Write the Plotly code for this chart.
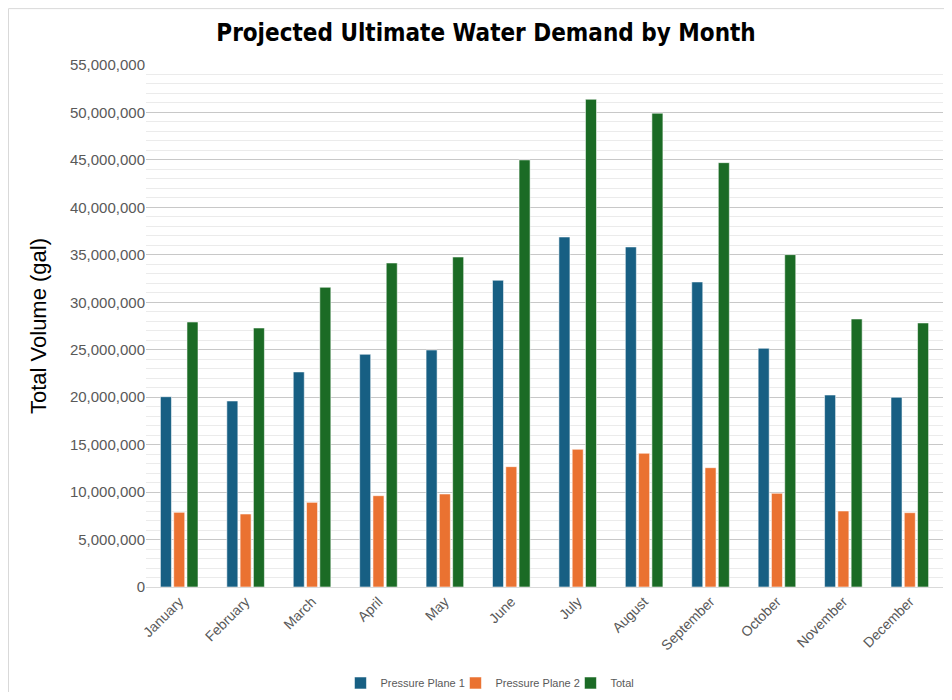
import plotly.graph_objects as go

months = ['January', 'February', 'March', 'April', 'May', 'June', 'July',
          'August', 'September', 'October', 'November', 'December']
plane1 = [20050000, 19600000, 22660000, 24520000, 24970000, 32320000,
          36880000, 35830000, 32140000, 25150000, 20230000, 19990000]
plane2 = [7870000, 7690000, 8920000, 9620000, 9800000, 12680000,
          14510000, 14090000, 12570000, 9870000, 8010000, 7830000]
total = [27920000, 27290000, 31580000, 34140000, 34770000, 45000000,
         51390000, 49920000, 44710000, 35020000, 28240000, 27820000]

# page body has an 8px margin, so the figure is sized to fit inside the window
W, H = 936, 684
edge = dict(color='rgba(255,255,255,0.55)', width=1)
fig = go.Figure()
fig.add_trace(go.Bar(x=months, y=plane1, name='Pressure Plane 1', marker=dict(color='#175f83', line=edge)))
fig.add_trace(go.Bar(x=months, y=plane2, name='Pressure Plane 2', marker=dict(color='#ea7231', line=edge)))
fig.add_trace(go.Bar(x=months, y=total, name='Total', marker=dict(color='#1b6b25', line=edge)))

fig.update_layout(
    width=W, height=H,
    margin=dict(l=138, r=1, t=57, b=105),
    paper_bgcolor='white', plot_bgcolor='white',
    barmode='group', bargap=0.4, bargroupgap=0.17,
    title=dict(text='Projected Ultimate Water Demand by Month', x=0.5107, xanchor='center',
               y=0.9635, yanchor='middle',
               font=dict(family='DejaVu Sans Condensed', size=24, color='black', weight='bold')),
    font=dict(family='Liberation Sans, Arial', color='#595959'),
    legend=dict(orientation='h', xref='container', yref='container',
                x=0.5395, xanchor='center', y=0.0132, yanchor='middle', entrywidth=70,
                font=dict(size=11, color='#595959'), itemwidth=30, traceorder='normal'),
    shapes=[dict(type='rect', xref='paper', yref='paper', x0=-0.1725, x1=1.05, y0=-0.3, y1=1.108,
                 line=dict(color='#d9d9d9', width=1), layer='below')],
)
fig.update_yaxes(range=[0, 55000000], dtick=5000000, tickformat=',d', automargin=False,
                 tickfont=dict(size=15, color='#595959'),
                 showgrid=True, gridcolor='#c8c8c8', gridwidth=1,
                 minor=dict(dtick=1000000, showgrid=True, gridcolor='#ebebeb', gridwidth=1),
                 zeroline=False, showline=False, ticks='',
                 title=dict(text='Total Volume (gal)', font=dict(size=22, color='black'), standoff=17))
fig.update_xaxes(tickangle=-45, tickfont=dict(size=14, color='#595959'), automargin=False,
                 showline=True, linecolor='#d9d9d9', linewidth=1, ticks='')

fig.write_html('out.html')
